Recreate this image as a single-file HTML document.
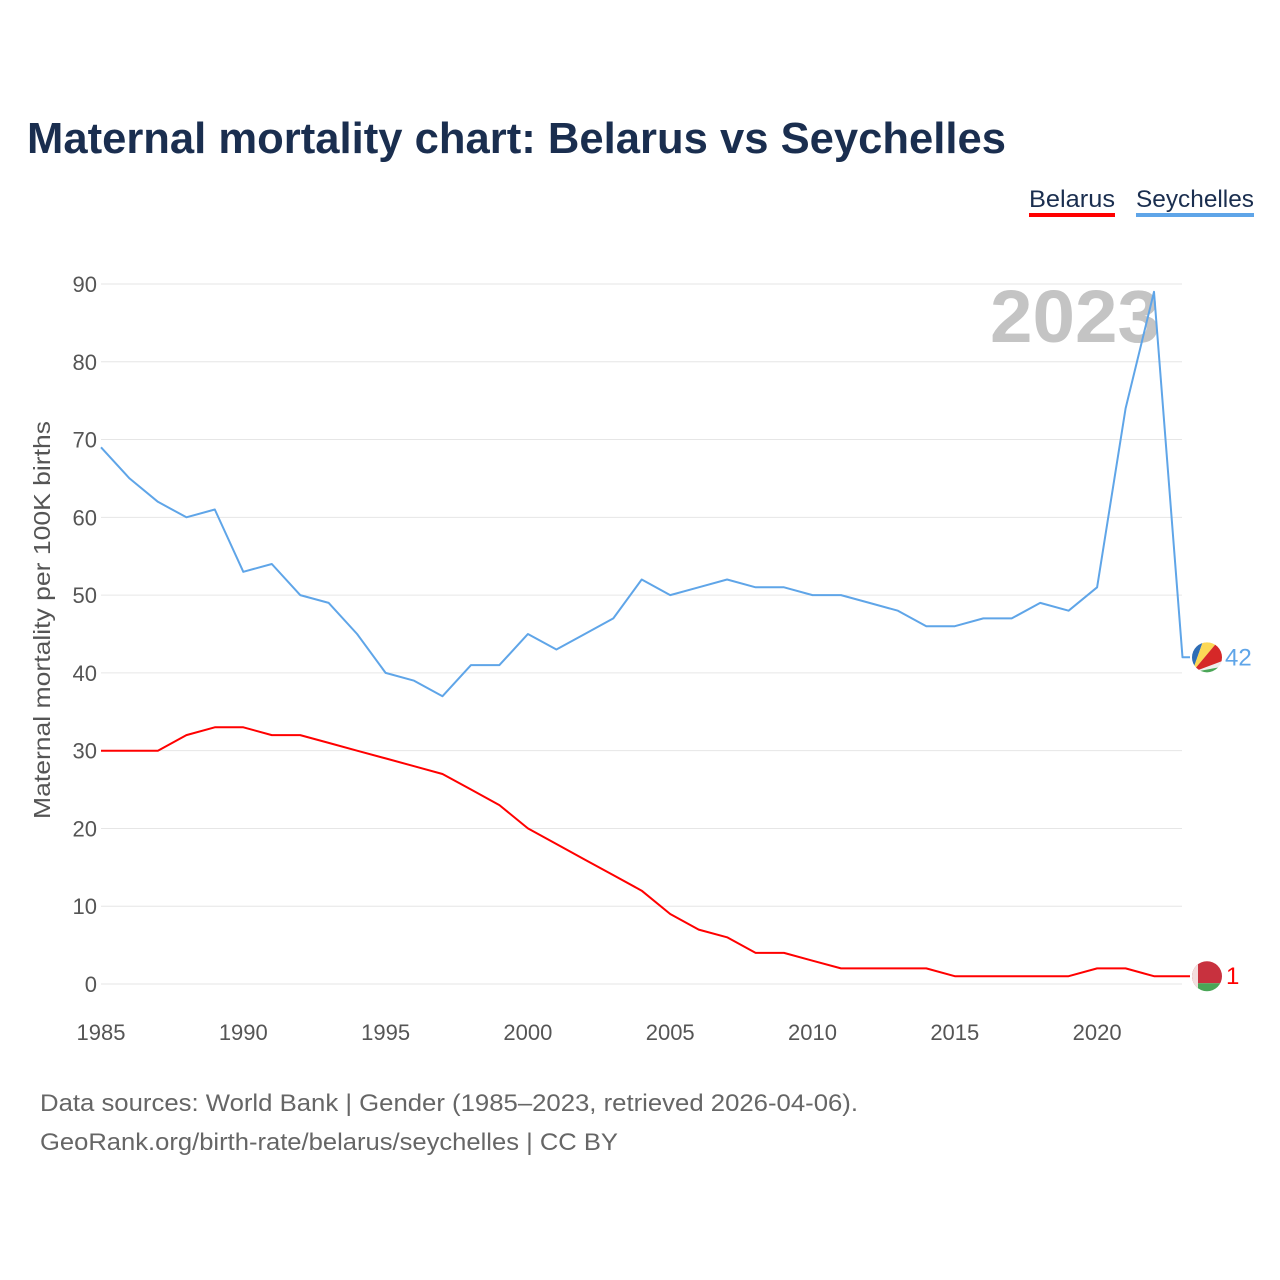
<!DOCTYPE html>
<html><head><meta charset="utf-8"><style>
body{margin:0;background:#fff;font-family:"Liberation Sans",sans-serif;}
svg{display:block}
</style></head><body>
<svg width="1280" height="1280">
<text x="27" y="153" font-size="44" font-weight="bold" fill="#1a2e4f" textLength="979" lengthAdjust="spacingAndGlyphs">Maternal mortality chart: Belarus vs Seychelles</text>
<g>
<text x="1029" y="207" font-size="24" fill="#1a2e4f" textLength="86" lengthAdjust="spacingAndGlyphs">Belarus</text>
<rect x="1029" y="213" width="86" height="4" fill="#ff0000"/>
<text x="1136" y="207" font-size="24" fill="#1a2e4f" textLength="118" lengthAdjust="spacingAndGlyphs">Seychelles</text>
<rect x="1136" y="213" width="118" height="4" fill="#5fa5e8"/>
</g>
<text x="1160" y="342" font-size="74" font-weight="bold" fill="#c4c4c4" text-anchor="end" textLength="170" lengthAdjust="spacingAndGlyphs">2023</text>
<g id="grid"></g><g id="xt"></g>
<text transform="translate(50,620) rotate(-90)" font-size="23" fill="#555" text-anchor="middle" textLength="398" lengthAdjust="spacingAndGlyphs">Maternal mortality per 100K births</text>
<g id="series"></g>
<text x="40" y="1111" font-size="24" fill="#666" textLength="818" lengthAdjust="spacingAndGlyphs">Data sources: World Bank | Gender (1985–2023, retrieved 2026-04-06).</text>
<text x="40" y="1150" font-size="24" fill="#666" textLength="578" lengthAdjust="spacingAndGlyphs">GeoRank.org/birth-rate/belarus/seychelles | CC BY</text>
</svg>
<script>
const years=[];for(let y=1985;y<=2023;y++)years.push(y);
const belarus=[30,30,30,32,33,33,32,32,31,30,29,28,27,25,23,20,18,16,14,12,9,7,6,4,4,3,2,2,2,2,1,1,1,1,1,2,2,1,1];
const seychelles=[69,65,62,60,61,53,54,50,49,45,40,39,37,41,41,45,43,45,47,52,50,51,52,51,51,50,50,49,48,46,46,47,47,49,48,51,74,89,42];
const yTicks=[0,10,20,30,40,50,60,70,80,90];
const xTicks=[1985,1990,1995,2000,2005,2010,2015,2020];
const NS="http://www.w3.org/2000/svg";
const X=y=>101+(y-1985)*28.46, Y=v=>984-v*7.778;
function mk(t,a,p){const e=document.createElementNS(NS,t);for(const k in a)e.setAttribute(k,a[k]);p.appendChild(e);return e;}
const grid=document.getElementById('grid');
yTicks.forEach(v=>{
 const l=mk('line',{x1:101,x2:1182,y1:Y(v),y2:Y(v),stroke:'#e6e6e6','stroke-width':1},grid);
 
 
 const t=mk('text',{x:97,y:Y(v)+8,'font-size':22,fill:'#555','text-anchor':'end'},grid);t.textContent=v;
 
 
});
const xt=document.getElementById('xt');
xTicks.forEach(v=>{
 const t=mk('text',{x:X(v),y:1040,'font-size':22,fill:'#555','text-anchor':'middle'},xt);t.textContent=v;
 
 
});
const sg=document.getElementById('series');
function draw(vals,color,name,flag){
 let d=vals.map((v,i)=>(i?'L':'M')+X(years[i]).toFixed(1)+','+Y(v).toFixed(1)).join(' ');
 const last=vals[vals.length-1];
 d+=' L1190,'+Y(last).toFixed(1);
 const p=mk('path',{d:d,fill:'none',stroke:color,'stroke-width':2,'stroke-linejoin':'round'},sg);
 
 
 const cy=Y(last);
 const g=mk('g',{},sg);
 
 
 const id='c'+name;
 const cp=mk('clipPath',{id:id},g);mk('circle',{cx:1207,cy:cy,r:15},cp);
 const fg=mk('g',{'clip-path':'url(#'+id+')'},g);
 if(flag==='by'){
  mk('rect',{x:1190,y:cy-16,width:34,height:23,fill:'#c8313e'},fg);
  mk('rect',{x:1190,y:cy+7,width:34,height:10,fill:'#4aa657'},fg);
  mk('rect',{x:1190,y:cy-16,width:8,height:34,fill:'#f3dede'},fg);
 } else {
  mk('rect',{x:1190,y:cy-16,width:34,height:34,fill:'#eeeeee'},fg);
  const bx=1192,by=cy+15;
  mk('polygon',{points:`${bx},${by} ${bx},${cy-16} 1203,${cy-16}`,fill:'#2f6db5'},fg);
  mk('polygon',{points:`${bx},${by} 1203,${cy-16} 1218,${cy-16}`,fill:'#fcd856'},fg);
  mk('polygon',{points:`${bx},${by} 1218,${cy-16} 1224,${cy-16} 1224,${cy+3}`,fill:'#d62828'},fg);
  mk('polygon',{points:`${bx},${by} 1224,${cy+9} 1224,${cy+18} ${bx},${cy+18}`,fill:'#4aa657'},fg);
 }
 const t=mk('text',{x:flag==='by'?1226:1225,y:cy+8,'font-size':24,fill:color},sg);t.textContent=last;
 
 
}
draw(seychelles,'#5fa5e8','seychelles','sc');
draw(belarus,'#ff0000','belarus','by');
</script>
</body></html>
